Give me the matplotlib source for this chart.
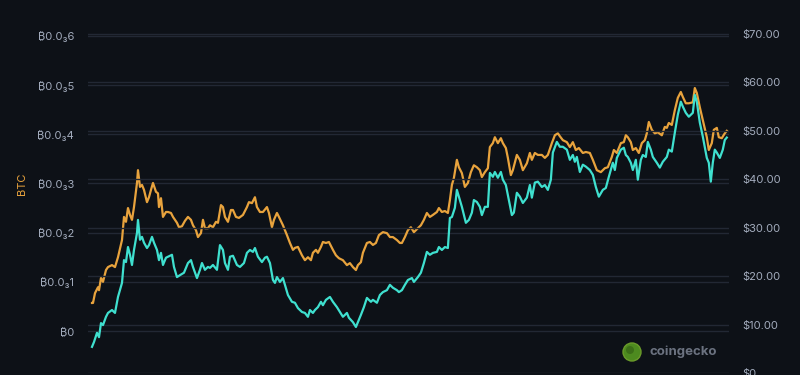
import matplotlib
matplotlib.use("Agg")
import matplotlib.pyplot as plt
import numpy as np
from matplotlib.patches import Circle
from matplotlib.ticker import FixedLocator, FuncFormatter

# BTC price series (days since start, price in units of 1e-4 BTC)
btc_days = [0, 1, 3, 6, 7, 9, 11, 14, 16, 20, 23, 26, 30, 32, 34, 36, 38, 40, 42, 45,
            46, 48, 50, 52, 55, 57, 59, 61, 64, 66, 67, 69, 71, 74, 76, 79, 81, 85, 87, 90,
            93, 96, 99, 101, 104, 106, 109, 111, 113, 116, 118, 121, 124, 126, 129, 131, 133, 136, 139, 141,
            144, 147, 151, 155, 157, 160, 163, 165, 168, 171, 175, 177, 180, 182, 185, 187, 191, 195, 198, 201,
            203, 206, 210, 213, 216, 219, 221, 224, 226, 229, 231, 234, 237, 241, 244, 247, 251, 255, 258, 261,
            264, 266, 269, 271, 275, 278, 281, 284, 287, 291, 295, 298, 301, 305, 308, 310, 313, 316, 319, 322,
            326, 329, 332, 335, 338, 341, 345, 347, 350, 353, 356, 358, 360, 362, 365, 367, 370, 373, 376, 379,
            382, 385, 388, 390, 393, 396, 398, 401, 403, 406, 409, 411, 414, 416, 419, 421, 425, 428, 431, 435,
            438, 440, 443, 446, 450, 453, 456, 460, 463, 466, 468, 471, 475, 478, 481, 484, 487, 491, 494, 498,
            501, 505, 509, 513, 516, 520, 522, 525, 529, 532, 534, 536, 539, 541, 544, 547, 550, 553, 555, 557,
            560, 563, 566, 570, 573, 575, 577, 580, 583, 586, 589, 591, 594, 597, 601, 603, 605, 608, 611, 615,
            617, 620, 622, 625, 627, 630, 633, 635]
btc_vals = [0.57, 0.57, 0.77, 0.89, 0.83, 1.08, 1.00, 1.24, 1.30, 1.34, 1.30, 1.50, 1.85, 2.32, 2.22, 2.50, 2.36, 2.26, 2.52, 3.01,
            3.27, 2.93, 2.97, 2.87, 2.62, 2.72, 2.87, 3.01, 2.83, 2.80, 2.52, 2.70, 2.32, 2.42, 2.42, 2.40, 2.32, 2.20, 2.11, 2.13,
            2.24, 2.32, 2.26, 2.15, 2.05, 1.91, 1.99, 2.26, 2.09, 2.09, 2.15, 2.11, 2.22, 2.20, 2.56, 2.52, 2.32, 2.22, 2.46, 2.46,
            2.32, 2.30, 2.36, 2.52, 2.62, 2.60, 2.72, 2.52, 2.42, 2.42, 2.52, 2.40, 2.11, 2.26, 2.40, 2.32, 2.15, 1.95, 1.79, 1.65,
            1.69, 1.71, 1.54, 1.44, 1.50, 1.44, 1.59, 1.65, 1.59, 1.71, 1.81, 1.79, 1.81, 1.65, 1.54, 1.48, 1.44, 1.34, 1.38, 1.30,
            1.24, 1.34, 1.40, 1.59, 1.79, 1.81, 1.75, 1.79, 1.95, 2.01, 1.99, 1.91, 1.91, 1.85, 1.79, 1.79, 1.91, 2.05, 2.11, 2.01,
            2.09, 2.15, 2.26, 2.40, 2.32, 2.36, 2.42, 2.50, 2.42, 2.44, 2.40, 2.66, 2.97, 3.11, 3.48, 3.33, 3.21, 2.93, 3.01, 3.23,
            3.37, 3.33, 3.27, 3.13, 3.23, 3.31, 3.74, 3.82, 3.94, 3.82, 3.92, 3.82, 3.72, 3.52, 3.17, 3.27, 3.58, 3.48, 3.27, 3.41,
            3.62, 3.48, 3.62, 3.58, 3.58, 3.52, 3.58, 3.82, 3.98, 4.02, 3.96, 3.88, 3.84, 3.74, 3.84, 3.68, 3.72, 3.62, 3.64, 3.62,
            3.48, 3.27, 3.23, 3.31, 3.33, 3.54, 3.68, 3.62, 3.82, 3.84, 3.98, 3.94, 3.84, 3.68, 3.72, 3.62, 3.82, 3.88, 4.02, 4.25,
            4.09, 4.02, 4.04, 3.98, 4.15, 4.13, 4.23, 4.19, 4.49, 4.74, 4.86, 4.76, 4.63, 4.63, 4.65, 4.94, 4.84, 4.55, 4.29, 3.94,
            3.68, 3.82, 4.09, 4.13, 3.94, 3.92, 4.02, 4.07]

# USD price series (days since start, price in USD)
usd_days = [0, 2, 5, 7, 9, 11, 14, 16, 20, 23, 26, 30, 32, 34, 36, 38, 40, 42, 45, 46,
            48, 50, 52, 55, 57, 60, 62, 65, 67, 69, 71, 74, 76, 80, 82, 85, 88, 92, 96, 99,
            101, 105, 108, 110, 113, 116, 118, 121, 125, 128, 131, 133, 136, 138, 141, 145, 148, 152, 155, 158,
            161, 163, 166, 170, 173, 175, 178, 181, 183, 185, 188, 191, 193, 196, 200, 203, 206, 210, 213, 216,
            218, 221, 223, 226, 229, 231, 234, 238, 241, 245, 248, 251, 255, 257, 261, 264, 266, 269, 272, 275,
            279, 281, 285, 288, 291, 295, 298, 301, 305, 307, 310, 313, 316, 320, 322, 326, 329, 332, 335, 338,
            341, 345, 347, 350, 353, 356, 358, 360, 363, 365, 368, 370, 374, 377, 380, 382, 385, 388, 390, 393,
            396, 398, 401, 403, 406, 409, 411, 414, 417, 420, 422, 425, 428, 431, 435, 438, 440, 443, 446, 450,
            453, 456, 459, 461, 465, 468, 471, 475, 478, 481, 483, 485, 488, 491, 494, 498, 501, 504, 507, 511,
            514, 517, 521, 523, 525, 529, 532, 534, 536, 539, 541, 544, 546, 549, 551, 554, 556, 559, 561, 565,
            568, 571, 575, 577, 580, 583, 586, 589, 591, 594, 597, 601, 603, 605, 608, 611, 615, 617, 619, 621,
            623, 625, 628, 631, 633, 635]
usd_vals = [5.4, 6.4, 8.3, 7.4, 10.3, 9.9, 11.6, 12.4, 13.0, 12.4, 15.7, 18.6, 23.3, 22.9, 26.0, 24.4, 22.3, 25.4, 28.9, 31.6,
            27.5, 28.1, 26.9, 25.8, 26.4, 28.1, 26.9, 25.4, 23.3, 24.8, 22.3, 23.8, 24.0, 24.4, 21.9, 19.8, 20.2, 20.7, 22.7, 23.3,
            21.9, 19.6, 21.3, 22.7, 21.3, 21.9, 21.7, 22.3, 21.3, 26.4, 25.4, 22.7, 21.3, 24.0, 24.2, 22.3, 21.9, 22.7, 24.8, 25.4,
            25.0, 25.8, 24.0, 22.9, 23.8, 24.0, 22.7, 19.2, 18.6, 19.8, 18.8, 19.6, 18.2, 16.1, 14.7, 14.5, 13.4, 12.6, 12.4, 11.6,
            13.0, 12.4, 13.0, 13.6, 14.7, 14.0, 15.1, 15.7, 14.7, 13.6, 12.6, 11.6, 12.4, 11.4, 10.5, 9.5, 10.5, 12.0, 13.6, 15.5,
            14.7, 15.1, 14.5, 16.1, 16.7, 17.1, 18.2, 17.6, 17.1, 16.7, 17.1, 18.2, 19.2, 19.6, 18.8, 19.8, 20.7, 22.7, 25.0, 24.4,
            24.8, 25.0, 26.0, 25.4, 26.0, 25.8, 32.0, 32.2, 34.1, 37.8, 35.7, 34.3, 31.0, 31.6, 33.1, 35.7, 35.3, 34.3, 32.6, 34.3,
            34.3, 41.3, 40.5, 41.5, 40.3, 41.5, 39.9, 38.8, 35.7, 32.6, 33.1, 37.2, 36.4, 35.1, 36.2, 38.8, 36.2, 39.3, 39.5, 38.4,
            38.8, 37.8, 39.9, 45.5, 47.7, 46.7, 46.7, 46.1, 44.0, 45.0, 43.6, 44.6, 41.5, 43.0, 42.6, 41.9, 40.9, 38.4, 36.4, 37.8,
            38.2, 40.5, 43.4, 41.9, 44.4, 46.1, 46.5, 45.0, 44.6, 43.4, 41.9, 44.0, 39.9, 44.0, 45.0, 44.6, 47.7, 46.1, 44.6, 43.4,
            42.4, 43.6, 44.6, 46.1, 45.7, 49.6, 53.3, 56.0, 55.0, 53.7, 52.9, 53.7, 57.4, 56.0, 51.7, 48.8, 44.4, 43.4, 39.5, 43.4,
            46.1, 45.5, 44.4, 46.1, 48.1, 48.6]

btc_ticks = [0, 1, 2, 3, 4, 5, 6]
usd_ticks = [0, 10, 20, 30, 40, 50, 60, 70]

BG = "#0d1117"
GRID = "#222834"
ORANGE = "#e8a33d"
TEAL = "#3fe0cf"
LABEL = "#a3acbd"

plt.rcParams["font.family"] = ["Inter", "DejaVu Sans"]

fig = plt.figure(figsize=(8, 3.75), dpi=100, facecolor=BG)
ax = fig.add_axes([0.11, 0.0053, 0.801, 0.9147])
ax.set_facecolor(BG)
ax2 = ax.twinx()

btc_price = np.array(btc_vals) * 1e-4
ax.plot(btc_days, btc_price, color=ORANGE, linewidth=1.6, zorder=3)
ax2.plot(usd_days, usd_vals, color=TEAL, linewidth=1.6, zorder=3)

ax.set_xlim(-4, 637)
ax.set_ylim(-0.854e-4, 6.12e-4)
ax2.set_ylim(0, 70.8)


def btc_label(v, pos):
    n = int(round(v * 1e4))
    if n == 0:
        return "₿0"
    return f"₿0.0₃{n}"


ax.yaxis.set_major_locator(FixedLocator([t * 1e-4 for t in btc_ticks]))
ax.yaxis.set_major_formatter(FuncFormatter(btc_label))
ax2.yaxis.set_major_locator(FixedLocator(usd_ticks))
ax2.yaxis.set_major_formatter(FuncFormatter(lambda v, p: f"${v:.2f}" if v else "$0"))

for a in (ax, ax2):
    a.set_xticks([])
    for s in a.spines.values():
        s.set_visible(False)
    a.tick_params(axis="y", length=0, labelsize=8, labelcolor=LABEL, pad=10)
    a.grid(True, axis="y", color=GRID, linewidth=1.0)
    a.set_axisbelow(True)

ax.set_ylabel("BTC", color=ORANGE, fontsize=8)
ax.yaxis.set_label_coords(-0.095, 0.551)

# coingecko watermark (display pixels, origin bottom-left)
fig.patches.append(Circle((632, 375 - 352), 9, transform=None, facecolor="#4d8a1f",
                          edgecolor="#6a9a2a", linewidth=1, zorder=5))
fig.patches.append(Circle((630, 375 - 350), 4, transform=None, facecolor="#3c6e18",
                          edgecolor="none", zorder=6))
fig.text(650 / 800, 1 - 352 / 375, "coingecko", color="#6b7280", fontsize=9.5,
         fontweight="bold", va="center", ha="left")

fig.savefig("out.png", dpi=100, facecolor=BG)
